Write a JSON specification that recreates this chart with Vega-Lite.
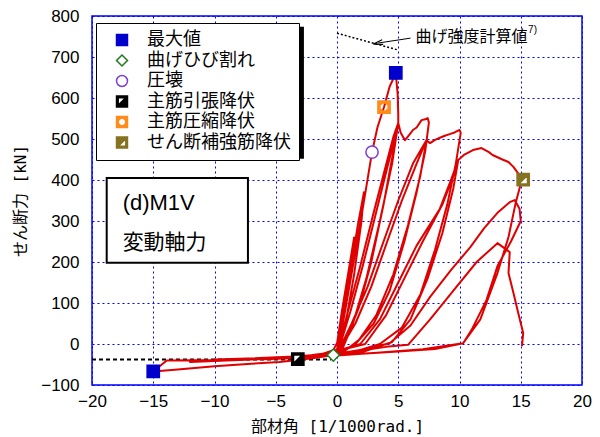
{
  "$schema": "https://vega.github.io/schema/vega-lite/v6.json",
  "width": 490,
  "height": 369,
  "autosize": {"type": "none"},
  "padding": {"left": 92, "top": 16, "right": 18, "bottom": 52},
  "background": "white",
  "config": {
    "view": {"stroke": "#0000ff", "strokeWidth": 1.5},
    "font": "Liberation Sans"
  },
  "datasets": {
    "one": [{}],
    "curve": [
      {"i":1,"x":0,"y":0},{"i":2,"x":0.4,"y":80},{"i":3,"x":0.9,"y":170},{"i":4,"x":1.4,"y":260},{"i":5,"x":1.3,"y":220},{"i":6,"x":0.8,"y":110},{"i":7,"x":0.3,"y":20},{"i":8,"x":-0.3,"y":-15},{"i":9,"x":-1.2,"y":-24},{"i":10,"x":-2,"y":-27},
      {"i":11,"x":-1,"y":-24},{"i":12,"x":0,"y":-14},{"i":13,"x":0.5,"y":70},{"i":14,"x":1.1,"y":180},{"i":15,"x":1.7,"y":290},{"i":16,"x":2.2,"y":370},{"i":17,"x":2.0,"y":300},{"i":18,"x":1.4,"y":170},{"i":19,"x":0.7,"y":50},{"i":20,"x":0.1,"y":-15},
      {"i":21,"x":-1.5,"y":-26},{"i":22,"x":-3,"y":-29},{"i":23,"x":-1.5,"y":-27},{"i":24,"x":0,"y":-17},{"i":25,"x":0.6,"y":70},{"i":26,"x":1.3,"y":190},{"i":27,"x":2.1,"y":330},{"i":28,"x":2.86,"y":468},{"i":29,"x":3.3,"y":528},{"i":30,"x":3.84,"y":578},
      {"i":31,"x":4.3,"y":628},{"i":32,"x":4.8,"y":660},{"i":33,"x":4.95,"y":610},{"i":34,"x":5.0,"y":560},{"i":35,"x":5.0,"y":540},{"i":36,"x":4.6,"y":470},{"i":37,"x":3.8,"y":340},{"i":38,"x":2.8,"y":200},{"i":39,"x":1.8,"y":90},{"i":40,"x":0.8,"y":15},
      {"i":41,"x":0.2,"y":-18},{"i":42,"x":-2,"y":-28},{"i":43,"x":-5,"y":-33},{"i":44,"x":-2.5,"y":-30},{"i":45,"x":-0.5,"y":-25},{"i":46,"x":0.1,"y":-10},{"i":47,"x":0.9,"y":80},{"i":48,"x":1.9,"y":190},{"i":49,"x":2.9,"y":310},{"i":50,"x":3.9,"y":425},
      {"i":51,"x":4.6,"y":505},{"i":52,"x":5.0,"y":539},{"i":53,"x":4.5,"y":440},{"i":54,"x":3.5,"y":300},{"i":55,"x":2.4,"y":160},{"i":56,"x":1.3,"y":50},{"i":57,"x":0.4,"y":-15},{"i":58,"x":-2,"y":-28},{"i":59,"x":-5,"y":-34},{"i":60,"x":-2.5,"y":-30},
      {"i":61,"x":-0.5,"y":-25},{"i":62,"x":0.2,"y":-8},{"i":63,"x":1.1,"y":80},{"i":64,"x":2.1,"y":190},{"i":65,"x":3.1,"y":310},{"i":66,"x":4.1,"y":430},{"i":67,"x":4.7,"y":500},{"i":68,"x":5.0,"y":539},{"i":69,"x":5.2,"y":515},{"i":70,"x":5.55,"y":497},
      {"i":71,"x":5.9,"y":510},{"i":72,"x":6.2,"y":522},{"i":73,"x":6.5,"y":528},{"i":74,"x":6.9,"y":546},{"i":75,"x":7.2,"y":548},{"i":76,"x":7.4,"y":551},{"i":77,"x":7.5,"y":540},{"i":78,"x":7.2,"y":470},{"i":79,"x":6.5,"y":370},{"i":80,"x":5.5,"y":250},
      {"i":81,"x":4.3,"y":130},{"i":82,"x":3,"y":50},{"i":83,"x":1.5,"y":0},{"i":84,"x":0.3,"y":-22},{"i":85,"x":-3,"y":-30},{"i":86,"x":-7.5,"y":-36},{"i":87,"x":-4,"y":-33},{"i":88,"x":-1,"y":-27},{"i":89,"x":0.2,"y":-12},{"i":90,"x":1.2,"y":50},
      {"i":91,"x":2.5,"y":140},{"i":92,"x":3.8,"y":250},{"i":93,"x":5,"y":350},{"i":94,"x":6.2,"y":440},{"i":95,"x":7.3,"y":497},{"i":96,"x":6.8,"y":410},{"i":97,"x":5.8,"y":290},{"i":98,"x":4.6,"y":170},{"i":99,"x":3.2,"y":70},{"i":100,"x":1.8,"y":10},
      {"i":101,"x":0.5,"y":-20},{"i":102,"x":-3,"y":-30},{"i":103,"x":-7.5,"y":-37},{"i":104,"x":-4,"y":-33},{"i":105,"x":-1,"y":-27},{"i":106,"x":0.3,"y":-10},{"i":107,"x":1.5,"y":50},{"i":108,"x":2.8,"y":140},{"i":109,"x":4.1,"y":250},{"i":110,"x":5.3,"y":350},
      {"i":111,"x":6.5,"y":440},{"i":112,"x":7.3,"y":497},{"i":113,"x":7.6,"y":490},{"i":114,"x":8,"y":498},{"i":115,"x":8.4,"y":503},{"i":116,"x":8.8,"y":508},{"i":117,"x":9.2,"y":512},{"i":118,"x":9.6,"y":516},{"i":119,"x":10,"y":522},{"i":120,"x":10.1,"y":515},
      {"i":121,"x":9.7,"y":440},{"i":122,"x":9,"y":340},{"i":123,"x":8,"y":230},{"i":124,"x":6.8,"y":120},{"i":125,"x":5.3,"y":40},{"i":126,"x":3.5,"y":0},{"i":127,"x":1.5,"y":-18},{"i":128,"x":0,"y":-25},{"i":129,"x":-4,"y":-32},{"i":130,"x":-10,"y":-38},
      {"i":131,"x":-6,"y":-35},{"i":132,"x":-2,"y":-29},{"i":133,"x":0.2,"y":-15},{"i":134,"x":1.9,"y":0},{"i":135,"x":3.5,"y":60},{"i":136,"x":5,"y":150},{"i":137,"x":6.5,"y":240},{"i":138,"x":8.4,"y":330},{"i":139,"x":9.3,"y":400},{"i":140,"x":9.9,"y":449},
      {"i":141,"x":9.5,"y":380},{"i":142,"x":8.6,"y":270},{"i":143,"x":7.4,"y":160},{"i":144,"x":6,"y":60},{"i":145,"x":4.5,"y":5},{"i":146,"x":2,"y":-20},{"i":147,"x":0,"y":-26},{"i":148,"x":-4,"y":-32},{"i":149,"x":-10,"y":-39},{"i":150,"x":-6,"y":-35},
      {"i":151,"x":-2,"y":-29},{"i":152,"x":0.3,"y":-15},{"i":153,"x":2.3,"y":0},{"i":154,"x":4,"y":70},{"i":155,"x":5.5,"y":160},{"i":156,"x":7,"y":250},{"i":157,"x":8.6,"y":340},{"i":158,"x":9.5,"y":410},{"i":159,"x":9.9,"y":449},{"i":160,"x":10.4,"y":462},
      {"i":161,"x":11.1,"y":473},{"i":162,"x":11.8,"y":478},{"i":163,"x":12.4,"y":468},{"i":164,"x":12.7,"y":461},{"i":165,"x":13.5,"y":450},{"i":166,"x":14,"y":444},{"i":167,"x":14.4,"y":432},{"i":168,"x":14.7,"y":420},{"i":169,"x":15.1,"y":402},{"i":170,"x":14.6,"y":346},
      {"i":171,"x":14.0,"y":261},{"i":172,"x":13.1,"y":173},{"i":173,"x":11.7,"y":60},{"i":174,"x":10.3,"y":2},{"i":175,"x":8,"y":-12},{"i":176,"x":5,"y":-18},{"i":177,"x":2,"y":-24},{"i":178,"x":0,"y":-28},{"i":179,"x":-5,"y":-35},{"i":180,"x":-12,"y":-44},
      {"i":181,"x":-7,"y":-38},{"i":182,"x":-2,"y":-30},{"i":183,"x":0,"y":-24},{"i":184,"x":2,"y":-14},{"i":185,"x":4.3,"y":2},{"i":186,"x":6,"y":45},{"i":187,"x":7.6,"y":115},{"i":188,"x":9.3,"y":180},{"i":189,"x":10.9,"y":237},{"i":190,"x":12,"y":282},
      {"i":191,"x":13.1,"y":320},{"i":192,"x":14.1,"y":346},{"i":193,"x":14.5,"y":351},{"i":194,"x":14.9,"y":330},{"i":195,"x":15.0,"y":300},{"i":196,"x":14.2,"y":250},{"i":197,"x":13.1,"y":190},{"i":198,"x":12.2,"y":107},{"i":199,"x":11,"y":35},{"i":200,"x":10.3,"y":2},
      {"i":201,"x":7,"y":-13},{"i":202,"x":3,"y":-22},{"i":203,"x":0,"y":-27},{"i":204,"x":-2,"y":-33},{"i":205,"x":-6,"y":-37},{"i":206,"x":-10,"y":-39},{"i":207,"x":-13.9,"y":-40},{"i":208,"x":-14.5,"y":-55},{"i":209,"x":-15,"y":-67},{"i":210,"x":-13,"y":-62},
      {"i":211,"x":-10,"y":-54},{"i":212,"x":-7,"y":-48},{"i":213,"x":-4.7,"y":-44},{"i":214,"x":-2,"y":-35},{"i":215,"x":-0.3,"y":-27},{"i":216,"x":2,"y":-16},{"i":217,"x":4,"y":-7},{"i":218,"x":5.8,"y":-2},{"i":219,"x":7.6,"y":60},{"i":220,"x":9.5,"y":130},
      {"i":221,"x":11.4,"y":200},{"i":222,"x":13.1,"y":246},{"i":223,"x":14.1,"y":224},{"i":224,"x":14.0,"y":173},{"i":225,"x":14.4,"y":125},{"i":226,"x":14.8,"y":75},{"i":227,"x":15.2,"y":27},{"i":228,"x":15.1,"y":-5}
    ],
    "calcpos": [{"x":0,"y":758},{"x":5,"y":717}],
    "calcneg": [{"x":-20,"y":-38},{"x":-0.5,"y":-38}],
    "arrow": [{"x":6.0,"y":746},{"x":3.35,"y":734}],
    "arrowhead": [{"x":3.35,"y":734}],
    "shadow": [{"x":-19.3,"x2":-2.7,"y":774,"y2":452}],
    "notebox": [{"x":-18.8,"x2":-7.27,"y":405,"y2":198}],
    "calclabel": [{"label":"曲げ強度計算値","x":6.4,"y":749}],
    "calcref": [{"label":"7)","x":15.6,"y":766}],
    "spec": [{"label":"(d)M1V","x":-17.5,"y":344}],
    "axial": [{"label":"変動軸力","x":-17.5,"y":246}],
    "markers": [
      {"type":"最大値","x":4.8,"y":661},
      {"type":"最大値","x":-15,"y":-67},
      {"type":"曲げひび割れ","x":-0.3,"y":-27},
      {"type":"圧壊","x":2.86,"y":468},
      {"type":"主筋引張降伏","x":-3.2,"y":-37},
      {"type":"主筋圧縮降伏","x":3.84,"y":578},
      {"type":"せん断補強筋降伏","x":15.2,"y":401}
    ]
  },
  "encoding": {
    "x": {"field": "x", "type": "quantitative",
      "scale": {"domain": [-20, 20], "nice": false, "zero": false},
      "axis": {"values": [-20,-15,-10,-5,0,5,10,15,20], "title": "部材角 [1/1000rad.]",
        "titleFont": "'DejaVu Sans Mono', 'Noto Sans CJK JP'", "titleFontSize": 16, "titleFontWeight": "normal", "titleColor": "#000", "titlePadding": 9,
        "labelFontSize": 17, "labelColor": "#000", "labelPadding": 8, "labelFlush": false,
        "domain": false, "ticks": false,
        "grid": true, "gridColor": "#0000ff", "gridDash": [2, 3], "gridWidth": 1, "gridOpacity": 1}},
    "y": {"field": "y", "type": "quantitative",
      "scale": {"domain": [-100, 800], "nice": false, "zero": false},
      "axis": {"values": [-100,0,100,200,300,400,500,600,700,800], "title": "せん断力 [kN]",
        "titleFont": "'DejaVu Sans Mono', 'Noto Sans CJK JP'", "titleFontSize": 16, "titleFontWeight": "normal", "titleColor": "#000", "titlePadding": 12,
        "labelFontSize": 17, "labelColor": "#000", "labelPadding": 13, "labelFlush": false,
        "domain": false, "ticks": false,
        "grid": true, "gridColor": "#0000ff", "gridDash": [2, 3], "gridWidth": 1, "gridOpacity": 1}}
  },
  "layer": [
    {"data": {"name": "one"},
     "mark": {"type": "rule", "color": "#101030", "strokeWidth": 1.5},
     "encoding": {"x": {"datum": 0}, "y": {"datum": -100}, "y2": {"datum": 800}}},
    {"data": {"name": "one"},
     "mark": {"type": "rule", "color": "#101030", "strokeWidth": 1.5},
     "encoding": {"y": {"datum": 0}, "x": {"datum": -20}, "x2": {"datum": 20}}},
    {"data": {"name": "shadow"},
     "mark": {"type": "rect", "fill": "#000", "opacity": 1},
     "encoding": {"x2": {"field": "x2"}, "y2": {"field": "y2"}}},
    {"data": {"name": "calcpos"},
     "mark": {"type": "line", "color": "#000", "strokeWidth": 1.5, "strokeDash": [2, 2]}},
    {"data": {"name": "calcneg"},
     "mark": {"type": "line", "color": "#000", "strokeWidth": 2, "strokeDash": [4, 3]}},
    {"data": {"name": "curve"},
     "mark": {"type": "line", "color": "#e00000", "strokeWidth": 2, "strokeJoin": "round"},
     "encoding": {"order": {"field": "i", "type": "quantitative"}}},
    {"data": {"name": "arrow"},
     "mark": {"type": "line", "color": "#000", "strokeWidth": 1}},
    {"data": {"name": "arrowhead"},
     "mark": {"type": "point", "shape": "M1,-0.5L-1,0L1,0.5", "filled": false, "color": "#000", "strokeWidth": 1.2, "size": 90, "angle": 348, "opacity": 1}},
    {"data": {"name": "calclabel"},
     "mark": {"type": "text", "font": "Noto Sans CJK JP", "fontSize": 16, "align": "left", "baseline": "middle", "color": "#000"},
     "encoding": {"text": {"field": "label"}}},
    {"data": {"name": "calcref"},
     "mark": {"type": "text", "font": "Liberation Sans", "fontSize": 10, "align": "left", "baseline": "middle", "color": "#000"},
     "encoding": {"text": {"field": "label"}}},
    {"data": {"name": "notebox"},
     "mark": {"type": "rect", "fill": "white", "stroke": "#000", "strokeWidth": 2},
     "encoding": {"x2": {"field": "x2"}, "y2": {"field": "y2"}}},
    {"data": {"name": "spec"},
     "mark": {"type": "text", "font": "Liberation Sans", "fontSize": 22, "align": "left", "baseline": "middle", "color": "#000"},
     "encoding": {"text": {"field": "label"}}},
    {"data": {"name": "axial"},
     "mark": {"type": "text", "font": "Noto Sans CJK JP", "fontSize": 21, "align": "left", "baseline": "middle", "color": "#000"},
     "encoding": {"text": {"field": "label"}}},
    {"data": {"name": "markers"},
     "transform": [{"filter": "datum.type === '主筋引張降伏' || datum.type === 'せん断補強筋降伏'"}],
     "mark": {"type": "point", "shape": "square", "filled": true, "color": "white", "size": 150, "opacity": 1}},
    {"data": {"name": "markers"},
     "mark": {"type": "point", "size": 150, "strokeWidth": 1.5, "opacity": 1, "fillOpacity": 1},
     "encoding": {
       "shape": {"field": "type", "type": "nominal",
         "scale": {"domain": ["最大値","曲げひび割れ","圧壊","主筋引張降伏","主筋圧縮降伏","せん断補強筋降伏"],
           "range": ["square","diamond","circle",
             "M-1,-1H1V1H-1Z M-0.7,-0.7V0.7H0.7V-0.7Z M0.7,-0.7L0.7,0.7L-0.7,0.7Z",
             "M-1,-1H1V1H-1Z M0.665,-0.276L0.276,-0.665L-0.276,-0.665L-0.665,-0.276L-0.665,0.276L-0.276,0.665L0.276,0.665L0.665,0.276Z",
             "M-1,-1H1V1H-1Z M-0.7,-0.7V0.7H0.7V-0.7Z M-0.7,-0.7L0.7,-0.7L-0.7,0.7Z"]},
         "legend": {"title": null, "orient": "none", "legendX": 4, "legendY": 7,
           "fillColor": "white", "strokeColor": "#000", "padding": 8, "symbolOffset": 9,
           "labelFont": "Noto Sans CJK JP", "labelFontSize": 18, "labelOffset": 16, "rowPadding": 2.5,
           "symbolSize": 120, "symbolStrokeWidth": 1.5,
           "encode": {
             "legend": {"update": {"strokeWidth": {"value": 2}}},
             "labels": {"update": {"fill": {"signal": "datum.value === '最大値' ? '#0000cc' : datum.value === '曲げひび割れ' ? '#1f7a1f' : datum.value === '圧壊' ? '#7a3fd6' : datum.value === '主筋引張降伏' ? '#000000' : datum.value === '主筋圧縮降伏' ? '#ff8000' : '#85731f'"}}}
           }}},
       "fill": {"field": "type", "type": "nominal",
         "scale": {"domain": ["最大値","曲げひび割れ","圧壊","主筋引張降伏","主筋圧縮降伏","せん断補強筋降伏"],
           "range": ["#0000cc","#ffffff","#ffffff","#000000","#ff8c1a","#85731f"]}},
       "stroke": {"field": "type", "type": "nominal",
         "scale": {"domain": ["最大値","曲げひび割れ","圧壊","主筋引張降伏","主筋圧縮降伏","せん断補強筋降伏"],
           "range": ["#0000cc","#1f7a1f","#7a3fd6","#000000","#ff8c1a","#85731f"]}}
     }}
  ]
}
